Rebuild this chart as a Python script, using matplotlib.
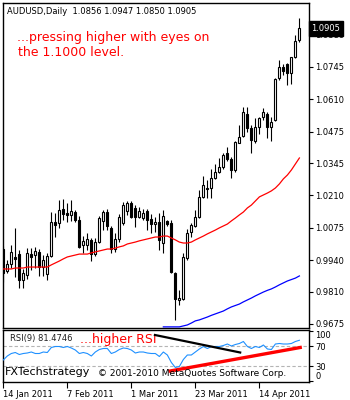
import matplotlib
matplotlib.use("Agg")
import matplotlib.pyplot as plt
import matplotlib.transforms as mtransforms
import numpy as np

# daily AUDUSD bars, 14 Jan 2011 onwards
opens = [0.9987, 0.9896, 0.9925, 0.9954, 0.9966, 0.9858, 0.9879, 0.9966, 0.9962, 0.9975,
         0.9912, 0.9883, 0.9958, 1.0100, 1.0095, 1.0154, 1.0137, 1.0129, 1.0141, 1.0108,
         1.0004, 1.0004, 1.0025, 0.9966, 1.0016, 1.0104, 1.0141, 1.0075, 0.9987, 1.0029,
         1.0095, 1.0145, 1.0179, 1.0158, 1.0120, 1.0116, 1.0145, 1.0112, 1.0091, 1.0100,
         1.0012, 1.0104, 1.0095, 0.9887, 0.9775, 0.9779, 0.9950, 1.0058, 1.0083, 1.0120,
         1.0204, 1.0241, 1.0241, 1.0283, 1.0308, 1.0329, 1.0387, 1.0362, 1.0316, 1.0429,
         1.0458, 1.0549, 1.0491, 1.0437, 1.0495, 1.0537, 1.0549, 1.0495, 1.0524, 1.0699,
         1.0745, 1.0757, 1.0720, 1.0787, 1.0856]
highs = [1.0000, 0.9941, 1.0004, 1.0075, 0.9983, 0.9904, 0.9991, 0.9991, 0.9996, 0.9987,
         0.9962, 0.9971, 1.0141, 1.0137, 1.0191, 1.0195, 1.0179, 1.0191, 1.0150, 1.0125,
         1.0041, 1.0054, 1.0033, 1.0033, 1.0125, 1.0150, 1.0154, 1.0083, 1.0054, 1.0133,
         1.0183, 1.0187, 1.0187, 1.0170, 1.0162, 1.0154, 1.0154, 1.0133, 1.0120, 1.0137,
         1.0150, 1.0108, 1.0108, 0.9892, 0.9817, 0.9971, 1.0071, 1.0095, 1.0150, 1.0233,
         1.0291, 1.0275, 1.0320, 1.0341, 1.0366, 1.0387, 1.0412, 1.0370, 1.0437, 1.0503,
         1.0578, 1.0578, 1.0503, 1.0533, 1.0537, 1.0574, 1.0558, 1.0537, 1.0699, 1.0774,
         1.0757, 1.0762, 1.0787, 1.0878, 1.0947]
lows = [0.9850, 0.9887, 0.9908, 0.9871, 0.9825, 0.9825, 0.9862, 0.9900, 0.9908, 0.9875,
        0.9875, 0.9858, 0.9954, 1.0037, 1.0075, 1.0108, 1.0100, 1.0104, 1.0100, 0.9991,
        0.9971, 0.9983, 0.9937, 0.9958, 1.0012, 1.0066, 1.0066, 0.9971, 0.9975, 1.0016,
        1.0087, 1.0129, 1.0116, 1.0079, 1.0116, 1.0108, 1.0066, 1.0054, 1.0058, 0.9983,
        0.9971, 1.0083, 0.9887, 0.9692, 0.9754, 0.9775, 0.9941, 1.0037, 1.0079, 1.0116,
        1.0200, 1.0200, 1.0200, 1.0279, 1.0304, 1.0320, 1.0354, 1.0283, 1.0308, 1.0429,
        1.0454, 1.0474, 1.0387, 1.0429, 1.0466, 1.0524, 1.0449, 1.0437, 1.0520, 1.0691,
        1.0712, 1.0670, 1.0674, 1.0782, 1.0850]
closes = [0.9887, 0.9925, 0.9975, 0.9946, 0.9858, 0.9887, 0.9971, 0.9954, 0.9979, 0.9912,
          0.9941, 0.9958, 1.0100, 1.0087, 1.0150, 1.0133, 1.0129, 1.0145, 1.0108, 0.9996,
          1.0021, 1.0029, 0.9966, 1.0016, 1.0116, 1.0141, 1.0083, 0.9987, 1.0029, 1.0120,
          1.0170, 1.0179, 1.0120, 1.0120, 1.0145, 1.0137, 1.0108, 1.0091, 1.0100, 1.0025,
          1.0125, 1.0091, 0.9892, 0.9779, 0.9783, 0.9954, 1.0054, 1.0087, 1.0120, 1.0204,
          1.0254, 1.0237, 1.0283, 1.0308, 1.0329, 1.0379, 1.0362, 1.0316, 1.0433, 1.0454,
          1.0558, 1.0491, 1.0441, 1.0495, 1.0533, 1.0558, 1.0495, 1.0516, 1.0695, 1.0745,
          1.0728, 1.0720, 1.0787, 1.0853, 1.0905]

# moving averages (red: shorter, blue: longer, starts at bar 40)
ma_red = [0.9904, 0.9904, 0.9904, 0.9908, 0.9908, 0.9908, 0.9912, 0.9912, 0.9912, 0.9912,
          0.9912, 0.9912, 0.9921, 0.9929, 0.9937, 0.9946, 0.9954, 0.9958, 0.9962, 0.9966,
          0.9966, 0.9966, 0.9971, 0.9975, 0.9979, 0.9983, 0.9987, 0.9987, 0.9991, 0.9996,
          1.0000, 1.0008, 1.0012, 1.0016, 1.0021, 1.0025, 1.0029, 1.0033, 1.0037, 1.0037,
          1.0041, 1.0041, 1.0033, 1.0025, 1.0016, 1.0012, 1.0012, 1.0016, 1.0025, 1.0033,
          1.0041, 1.0050, 1.0058, 1.0066, 1.0075, 1.0083, 1.0091, 1.0104, 1.0116, 1.0129,
          1.0141, 1.0158, 1.0170, 1.0187, 1.0204, 1.0212, 1.0220, 1.0229, 1.0241, 1.0258,
          1.0279, 1.0295, 1.0316, 1.0341, 1.0366]
ma_blue_start = 40
ma_blue = [0.9663, 0.9663, 0.9663, 0.9663, 0.9663, 0.9667, 0.9671, 0.9679, 0.9688, 0.9692,
           0.9698, 0.9704, 0.9711, 0.9717, 0.9723, 0.9729, 0.9738, 0.9746, 0.9752, 0.9758,
           0.9767, 0.9775, 0.9783, 0.9792, 0.9800, 0.9808, 0.9815, 0.9821, 0.9829, 0.9838,
           0.9846, 0.9854, 0.9860, 0.9866, 0.9875]

# RSI(9)
rsi = [42, 50, 55, 57, 53, 55, 56, 58, 55, 55, 58, 57, 67, 69, 69, 67, 69, 66, 62, 55,
       57, 55, 50, 58, 63, 65, 65, 55, 58, 63, 66, 65, 62, 56, 58, 58, 56, 55, 55, 49,
       58, 52, 37, 27, 29, 43, 52, 52, 58, 64, 69, 65, 69, 69, 69, 71, 74, 70, 73, 75,
       79, 69, 65, 69, 67, 72, 64, 63, 74, 75, 74, 74, 75, 79, 81.4746]

# trend lines on the RSI window: (bar, value) end points
rsi_down = [(37.9, 92), (59.2, 57)]
rsi_up = [(41.7, 20), (74.2, 67)]

price_ticks = [0.9675, 0.9810, 0.9940, 1.0075, 1.0210, 1.0345, 1.0475, 1.0610, 1.0745, 1.0880]
date_pos = [0, 16, 32, 48, 64]
date_labels = ["14 Jan 2011", "7 Feb 2011", "1 Mar 2011", "23 Mar 2011", "14 Apr 2011"]

W, H = 350, 400
FS = 6


def box(x0, y0, x1, y1):
    return [x0 / W, 1 - y1 / H, (x1 - x0) / W, (y1 - y0) / H]


fig = plt.figure(figsize=(W / 100, H / 100), dpi=100)
fig.patch.set_facecolor("white")
ax = fig.add_axes(box(2.5, 3, 309, 327.5))
rs = fig.add_axes(box(2.5, 330, 309, 381.5))

x = np.arange(len(closes))
o = np.array(opens)
c = np.array(closes)
up = c >= o

ax.vlines(x, lows, highs, color="black", lw=0.8, zorder=2)
ax.bar(x, np.maximum(np.abs(c - o), 0.00005), bottom=np.minimum(o, c), width=0.55,
       color=np.where(up, "white", "black"), edgecolor="black", lw=0.8, zorder=3)

ax.plot(x, ma_red, color="red", lw=0.9, zorder=4)
ax.plot(x[ma_blue_start:], ma_blue, color="blue", lw=0.9, zorder=4)

ax.set_xlim(-0.2, 76.4)
ax.set_ylim(0.96604, 1.1011)
ax.set_xticks([])
ax.yaxis.tick_right()
ax.set_yticks(price_ticks)
ax.set_yticklabels(["%.4f" % v for v in price_ticks])
ax.tick_params(axis="y", direction="out", length=3, width=0.8, pad=1.5, labelsize=FS)
for s in ax.spines.values():
    s.set_linewidth(1)

# last price marker
tr = mtransforms.blended_transform_factory(ax.transAxes, ax.transData)
ax.text(1.008, closes[-1], "%.4f" % closes[-1], transform=tr, fontsize=FS, color="white",
        va="center", ha="left", zorder=10,
        bbox=dict(boxstyle="square,pad=0.35", fc="black", ec="black"))

fig.text(7 / W, 1 - 12 / H, "AUDUSD,Daily  %.4f %.4f %.4f %.4f" % (opens[-1], highs[-1], lows[-1], closes[-1]),
         fontsize=FS, va="center", ha="left")
fig.text(17 / W, 1 - 38 / H, "...pressing higher with eyes on", fontsize=9, color="red",
         va="center", ha="left")
fig.text(18 / W, 1 - 53 / H, "the 1.1000 level.", fontsize=9, color="red",
         va="center", ha="left")

# RSI window
rs.plot(x, rsi, color="#1e90ff", lw=0.8, zorder=3)
rs.axhline(70, color="#b4b4b4", lw=0.8, ls=(0, (3, 2)), zorder=1)
rs.axhline(30, color="#b4b4b4", lw=0.8, ls=(0, (3, 2)), zorder=1)
rs.plot([p[0] for p in rsi_down], [p[1] for p in rsi_down], color="black", lw=1.6, zorder=4)
rs.plot([p[0] for p in rsi_up], [p[1] for p in rsi_up], color="red", lw=2.4, zorder=4)
rs.set_xlim(-0.2, 76.4)
rs.set_ylim(-1, 102)
rs.yaxis.tick_right()
rs.set_yticks([100, 70, 30, 0])
rs.set_yticklabels(["100", "70", "30", "0"])
rs.tick_params(axis="y", direction="out", length=3, width=0.8, pad=1.5, labelsize=FS)
ylab = rs.get_yticklabels()
ylab[0].set_va("top")
ylab[-1].set_va("bottom")
rs.set_xticks(date_pos)
rs.set_xticklabels(date_labels, ha="left")
rs.tick_params(axis="x", direction="out", length=4, width=0.8, pad=2, labelsize=FS)
for s in rs.spines.values():
    s.set_linewidth(1)

rs.text(7 / 306.5, 1 - 9 / 51.5, "RSI(9) %.4f" % rsi[-1], transform=rs.transAxes,
        fontsize=FS, va="center", ha="left", color="#202020")
rs.text(77 / 306.5, 1 - 9 / 51.5, "...higher RSI", transform=rs.transAxes,
        fontsize=9, va="center", ha="left", color="red")
rs.text(2.5 / 306.5, 1 - 42 / 51.5, "FXTechstrategy", transform=rs.transAxes,
        fontsize=8, va="center", ha="left", color="black", zorder=6)
rs.text(95 / 306.5, 1 - 43 / 51.5, "\u00a9 2001-2010 MetaQuotes Software Corp.",
        transform=rs.transAxes, fontsize=6.5, va="center", ha="left", color="black", zorder=6)

fig.savefig("out.png", dpi=100, facecolor="white")
